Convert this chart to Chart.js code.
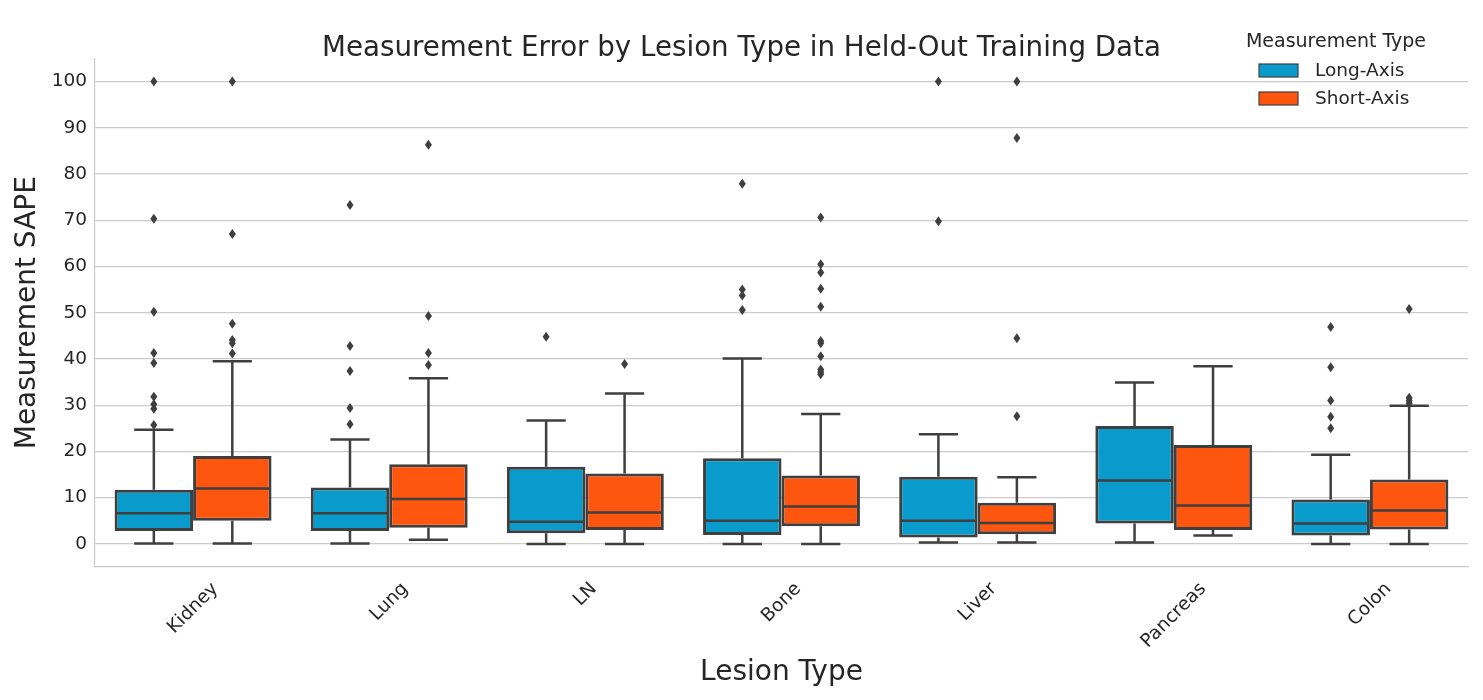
<!DOCTYPE html>
<html>
<head>
<meta charset="utf-8">
<script src="https://cdn.jsdelivr.net/npm/chart.js@4.4.1/dist/chart.umd.min.js"></script>
<style>
html,body{margin:0;padding:0;background:#fff;}
#wrap{width:1483px;height:700px;}
</style>
</head>
<body>
<div id="wrap"><canvas id="c" width="1483" height="700"></canvas></div>
<script>
const categories = ['Kidney', 'Lung', 'LN', 'Bone', 'Liver', 'Pancreas', 'Colon'];
const seriesNames = ['Long-Axis', 'Short-Axis'];
const yTicks = [0, 10, 20, 30, 40, 50, 60, 70, 80, 90, 100];

// Long-Axis box statistics
const longWhiskerLow  = [0.1, 0.1, 0.0, 0.0, 0.3, 0.3, 0.0];
const longQ1          = [2.8, 2.8, 2.3, 1.9, 1.4, 4.4, 1.8];
const longMedian      = [6.6, 6.6, 4.8, 5.0, 5.0, 13.7, 4.4];
const longQ3          = [11.7, 12.2, 16.7, 18.5, 14.5, 25.5, 9.6];
const longWhiskerHigh = [24.7, 22.6, 26.7, 40.1, 23.7, 34.9, 19.3];
const longOutliers = [
  [100, 70.3, 50.2, 41.3, 39.1, 31.8, 30.2, 29.2, 25.7],
  [73.3, 42.8, 37.4, 29.4, 25.9],
  [44.8],
  [77.9, 55.0, 53.7, 50.6],
  [100, 69.8],
  [],
  [46.9, 38.2, 31.0, 27.5, 25.0]
];

// Short-Axis box statistics
const shortWhiskerLow  = [0.1, 0.9, 0.0, 0.0, 0.3, 1.8, 0.0];
const shortQ1          = [5.0, 3.5, 3.0, 3.8, 2.1, 3.0, 3.1];
const shortMedian      = [12.0, 9.7, 6.8, 8.1, 4.5, 8.3, 7.2];
const shortQ3          = [19.0, 17.2, 15.2, 14.8, 8.9, 21.4, 13.9];
const shortWhiskerHigh = [39.5, 35.8, 32.5, 28.1, 14.4, 38.4, 29.9];
const shortOutliers = [
  [100, 67.0, 47.6, 44.1, 43.4, 41.2],
  [86.3, 49.3, 41.3, 38.7],
  [38.9],
  [70.6, 60.5, 58.7, 55.2, 51.3, 43.9, 43.4, 40.6, 37.7, 37.2, 36.7],
  [100, 87.8, 44.5, 27.6],
  [],
  [50.8, 31.6, 31.0, 30.4]
];

const colors = ['#089bcb', '#fe560f'];
const lineColor = '#3f3f3f';
const textColor = '#262626';
const FONT = "'DejaVu Sans', sans-serif";

const stats = [
  {low: longWhiskerLow, q1: longQ1, med: longMedian, q3: longQ3, high: longWhiskerHigh, out: longOutliers},
  {low: shortWhiskerLow, q1: shortQ1, med: shortMedian, q3: shortQ3, high: shortWhiskerHigh, out: shortOutliers}
];

const boxPlugin = {
  id: 'boxExtras',
  beforeDatasetsDraw(chart) {
    const ctx = chart.ctx;
    const y = chart.scales.y;
    ctx.save();
    ctx.strokeStyle = lineColor;
    ctx.lineWidth = 2.5;
    stats.forEach((s, di) => {
      const meta = chart.getDatasetMeta(di);
      meta.data.forEach((bar, i) => {
        const x = bar.x;
        const half = bar.width / 4;
        const yl = y.getPixelForValue(s.low[i]);
        const yh = y.getPixelForValue(s.high[i]);
        const y1 = y.getPixelForValue(s.q1[i]);
        const y3 = y.getPixelForValue(s.q3[i]);
        ctx.beginPath();
        ctx.moveTo(x, y1); ctx.lineTo(x, yl);
        ctx.moveTo(x, y3); ctx.lineTo(x, yh);
        ctx.moveTo(x - half, yl); ctx.lineTo(x + half, yl);
        ctx.moveTo(x - half, yh); ctx.lineTo(x + half, yh);
        ctx.stroke();
      });
    });
    ctx.restore();
  },
  afterDatasetsDraw(chart) {
    const ctx = chart.ctx;
    const y = chart.scales.y;
    ctx.save();
    ctx.strokeStyle = lineColor;
    ctx.lineWidth = 2.5;
    stats.forEach((s, di) => {
      const meta = chart.getDatasetMeta(di);
      meta.data.forEach((bar, i) => {
        const x = bar.x;
        const hw = bar.width / 2;
        const ym = y.getPixelForValue(s.med[i]);
        ctx.beginPath();
        ctx.moveTo(x - hw + 1, ym); ctx.lineTo(x + hw - 1, ym);
        ctx.stroke();
        ctx.fillStyle = lineColor;
        s.out[i].forEach(v => {
          const yp = y.getPixelForValue(v);
          ctx.beginPath();
          ctx.moveTo(x, yp - 5);
          ctx.lineTo(x + 3.5, yp);
          ctx.lineTo(x, yp + 5);
          ctx.lineTo(x - 3.5, yp);
          ctx.closePath();
          ctx.fill();
        });
      });
    });
    ctx.restore();
  },
  afterDraw(chart) {
    const ctx = chart.ctx;
    const xs = chart.scales.x;
    const area = chart.chartArea;
    ctx.save();
    ctx.font = '18.5px ' + FONT;
    ctx.fillStyle = textColor;
    ctx.textAlign = 'center';
    ctx.textBaseline = 'middle';
    categories.forEach((c, i) => {
      const x = xs.getPixelForTick(i);
      const w = ctx.measureText(c).width;
      const bh = (w + 17) * Math.SQRT1_2;
      const cy = area.bottom + 13 + bh / 2;
      ctx.save();
      ctx.translate(x, cy);
      ctx.rotate(-Math.PI / 4);
      ctx.fillText(c, 0, 0);
      ctx.restore();
    });
    ctx.font = '19px ' + FONT;
    ctx.textAlign = 'center';
    ctx.fillText('Measurement Type', 1336, 42);
    ctx.textAlign = 'left';
    ctx.font = '18.5px ' + FONT;
    seriesNames.forEach((n, i) => {
      const yy = 64 + i * 28;
      ctx.fillStyle = colors[i];
      ctx.fillRect(1259, yy, 39, 13);
      ctx.strokeStyle = lineColor;
      ctx.lineWidth = 1.2;
      ctx.strokeRect(1259, yy, 39, 13);
      ctx.fillStyle = textColor;
      ctx.fillText(n, 1315, yy + 7);
    });
    ctx.restore();
  }
};

const datasets = stats.map((s, di) => ({
  label: seriesNames[di],
  data: categories.map((c, i) => [s.q1[i], s.q3[i]]),
  backgroundColor: colors[di],
  borderColor: lineColor,
  borderWidth: 3,
  borderSkipped: false,
  categoryPercentage: 0.8,
  barPercentage: 1.0
}));

new Chart(document.getElementById('c'), {
  type: 'bar',
  data: {labels: categories, datasets},
  plugins: [boxPlugin],
  options: {
    responsive: false,
    animation: false,
    devicePixelRatio: 1,
    layout: {padding: {left: 15, right: 15, top: 0, bottom: 0}},
    plugins: {
      legend: {display: false},
      tooltip: {enabled: false},
      title: {
        display: true,
        text: 'Measurement Error by Lesion Type in Held-Out Training Data',
        color: textColor,
        font: {family: FONT, size: 27.7, weight: 'normal', lineHeight: 0.7},
        padding: {top: 39, bottom: 0}
      }
    },
    scales: {
      x: {
        grid: {display: false, drawTicks: false},
        border: {display: true, color: '#cccccc', width: 1.2},
        ticks: {display: false},
        title: {
          display: true, text: 'Lesion Type', color: textColor,
          font: {family: FONT, size: 28, weight: 'normal', lineHeight: 1.2},
          padding: {top: 10, bottom: 10}
        },
        afterFit(scale) { scale.height = 133; }
      },
      y: {
        min: -5, max: 105,
        afterBuildTicks(scale) { scale.ticks = yTicks.map(v => ({value: v})); },
        grid: {color: '#cccccc', lineWidth: 1.2, drawTicks: false},
        border: {display: true, color: '#cccccc', width: 1.2},
        ticks: {color: textColor, font: {family: FONT, size: 18.5}, padding: 8},
        title: {
          display: true, text: 'Measurement SAPE', color: textColor,
          font: {family: FONT, size: 28, weight: 'normal', lineHeight: 0.8},
          padding: {top: 2, bottom: 0}
        },
        afterFit(scale) { scale.width = 80; }
      }
    }
  }
});
</script>
</body>
</html>
